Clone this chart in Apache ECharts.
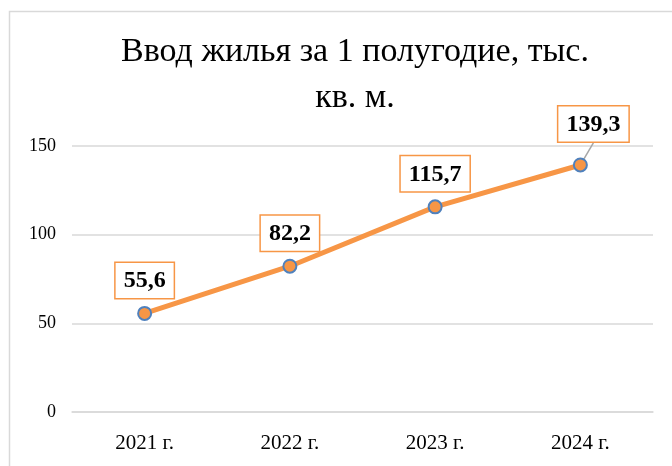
<!DOCTYPE html>
<html>
<head>
<meta charset="utf-8">
<script src="https://cdn.jsdelivr.net/npm/echarts@6/dist/echarts.min.js"></script>
<style>
  html, body { margin: 0; padding: 0; background: #fff; }
  #chart { width: 672px; height: 466px; }
</style>
</head>
<body>
<div id="chart"></div>
<script>
var chartDom = document.getElementById('chart');
var myChart = echarts.init(chartDom);

// данные
var titleText = 'Ввод жилья за 1 полугодие, тыс.\nкв. м.';
var years = ['2021 г.', '2022 г.', '2023 г.', '2024 г.'];
var values = [55.6, 82.2, 115.7, 139.3];
var yTicks = [0, 50, 100, 150];

var orange = '#f79646';
var serif = '"Liberation Serif", "Times New Roman", serif';

var seriesData = values.map(function (v, i) {
  var item = { value: v };
  // у последней точки подпись с выноской
  if (i === values.length - 1) {
    item.labelLine = { show: true };
  }
  return item;
});

var option = {
  animation: false,
  title: {
    text: titleText,
    left: 350,
    textAlign: 'center',
    top: 24,
    textStyle: {
      fontFamily: serif,
      fontSize: 34,
      fontWeight: 'normal',
      color: '#000',
      lineHeight: 46
    }
  },
  graphic: [{
    type: 'rect',
    shape: { x: 9.5, y: 11.5, width: 700, height: 500 },
    style: { fill: 'none', stroke: '#d9d9d9', lineWidth: 1.5 },
    silent: true
  }],
  grid: { left: 72, right: 19, top: 146, bottom: 54 },
  xAxis: {
    type: 'category',
    data: years,
    boundaryGap: true,
    axisLine: { show: true, lineStyle: { color: '#d9d9d9', width: 1.5 } },
    axisTick: { show: false },
    axisLabel: { fontFamily: serif, fontSize: 21, color: '#000', margin: 21 }
  },
  yAxis: {
    type: 'value',
    min: yTicks[0],
    max: yTicks[yTicks.length - 1],
    interval: 50,
    axisLine: { show: false },
    axisTick: { show: false },
    splitLine: { lineStyle: { color: '#d9d9d9', width: 1.5 } },
    axisLabel: { fontFamily: serif, fontSize: 18, color: '#000', margin: 16 }
  },
  series: [{
    type: 'line',
    data: seriesData,
    symbol: 'circle',
    symbolSize: 13,
    lineStyle: { color: orange, width: 5 },
    itemStyle: { color: orange, borderColor: '#4f81bd', borderWidth: 2 },
    labelLine: { lineStyle: { color: '#a6a6a6', width: 1.5 } },
    labelLayout: function (params) {
      if (params.dataIndex === values.length - 1) {
        return { dx: 13, dy: -8 };
      }
    },
    label: {
      show: true,
      position: 'top',
      distance: 8,
      formatter: function (p) { return String(p.value).replace('.', ','); },
      fontFamily: serif,
      fontSize: 24,
      fontWeight: 'bold',
      color: '#000',
      backgroundColor: '#fff',
      borderColor: orange,
      borderWidth: 1.5,
      padding: [6, 8, 5, 8]
    }
  }]
};

option && myChart.setOption(option);
</script>
</body>
</html>
